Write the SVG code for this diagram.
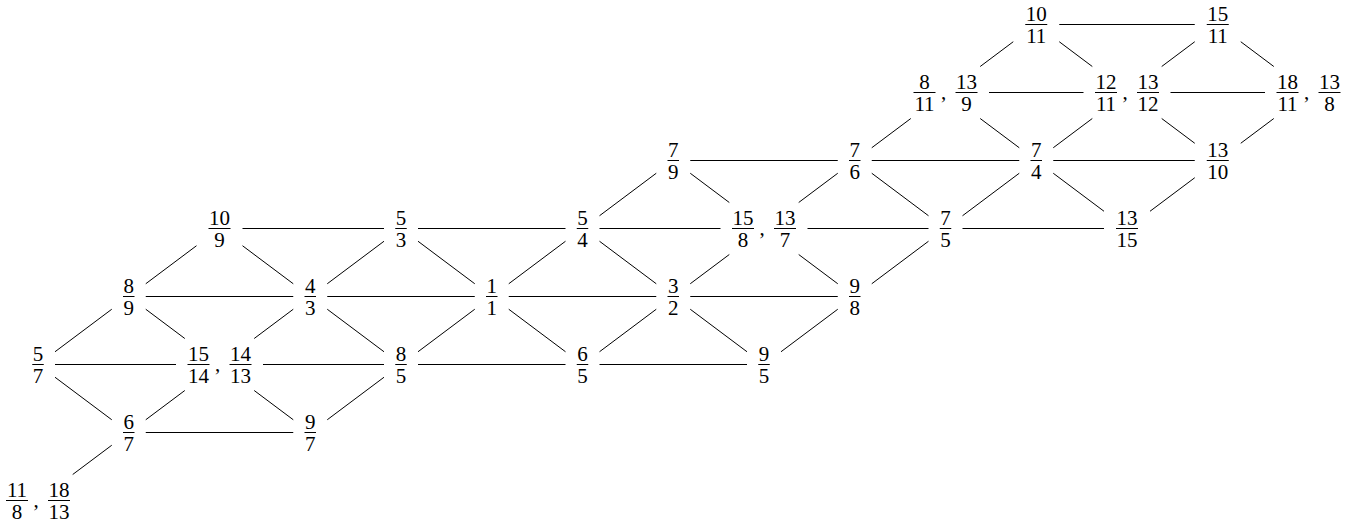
<svg xmlns="http://www.w3.org/2000/svg" width="1354" height="525" viewBox="0 0 1354 525">
<style>
.t{font-family:"Liberation Serif","Times New Roman",serif;font-size:21px;fill:#000;text-anchor:middle}
.bar{stroke:#000;stroke-width:1}
.edges line{stroke:#000;stroke-width:1;fill:none}
</style>
<rect width="1354" height="525" fill="#fff"/>
<g transform="translate(0,-0.5)">
<g id="connectors" class="edges">
<line x1="1059.25" y1="25" x2="1194.75" y2="25"/>
<line x1="989" y1="93" x2="1083.5" y2="93"/>
<line x1="1170.5" y1="93" x2="1265" y2="93"/>
<line x1="690.25" y1="161" x2="837.75" y2="161"/>
<line x1="871.75" y1="161" x2="1019.25" y2="161"/>
<line x1="1053.25" y1="161" x2="1194.75" y2="161"/>
<line x1="242.5" y1="229" x2="384" y2="229"/>
<line x1="418" y1="229" x2="565.5" y2="229"/>
<line x1="599.5" y1="229" x2="720.5" y2="229"/>
<line x1="807.5" y1="229" x2="928.5" y2="229"/>
<line x1="962.5" y1="229" x2="1104" y2="229"/>
<line x1="145.75" y1="297" x2="293.25" y2="297"/>
<line x1="327.25" y1="297" x2="474.75" y2="297"/>
<line x1="508.75" y1="297" x2="656.25" y2="297"/>
<line x1="690.25" y1="297" x2="837.75" y2="297"/>
<line x1="55" y1="365" x2="176" y2="365"/>
<line x1="263" y1="365" x2="384" y2="365"/>
<line x1="418" y1="365" x2="565.5" y2="365"/>
<line x1="599.5" y1="365" x2="747" y2="365"/>
<line x1="145.75" y1="433" x2="293.25" y2="433"/>
<line x1="72.7" y1="475" x2="111.75" y2="445.74"/>
<line x1="55" y1="352.26" x2="111.75" y2="309.74"/>
<line x1="145.75" y1="420.26" x2="184.8" y2="391"/>
<line x1="145.75" y1="284.26" x2="196.5" y2="246.23"/>
<line x1="254.2" y1="339" x2="293.25" y2="309.74"/>
<line x1="327.25" y1="420.26" x2="384" y2="377.74"/>
<line x1="327.25" y1="284.26" x2="384" y2="241.74"/>
<line x1="418" y1="352.26" x2="474.75" y2="309.74"/>
<line x1="508.75" y1="284.26" x2="565.5" y2="241.74"/>
<line x1="599.5" y1="352.26" x2="656.25" y2="309.74"/>
<line x1="599.5" y1="216.26" x2="656.25" y2="173.74"/>
<line x1="690.25" y1="284.26" x2="729.3" y2="255"/>
<line x1="781" y1="352.26" x2="837.75" y2="309.74"/>
<line x1="798.7" y1="203" x2="837.75" y2="173.74"/>
<line x1="871.75" y1="284.26" x2="928.5" y2="241.74"/>
<line x1="871.75" y1="148.26" x2="910.8" y2="119"/>
<line x1="962.5" y1="216.26" x2="1019.25" y2="173.74"/>
<line x1="1053.25" y1="148.26" x2="1092.3" y2="119"/>
<line x1="980.2" y1="67" x2="1013.25" y2="42.23"/>
<line x1="1150" y1="211.77" x2="1194.75" y2="178.23"/>
<line x1="1161.7" y1="67" x2="1194.75" y2="42.23"/>
<line x1="1240.75" y1="143.77" x2="1273.8" y2="119"/>
<line x1="55" y1="377.74" x2="111.75" y2="420.26"/>
<line x1="145.75" y1="309.74" x2="184.8" y2="339"/>
<line x1="242.5" y1="246.23" x2="293.25" y2="284.26"/>
<line x1="254.2" y1="391" x2="293.25" y2="420.26"/>
<line x1="327.25" y1="309.74" x2="384" y2="352.26"/>
<line x1="418" y1="241.74" x2="474.75" y2="284.26"/>
<line x1="508.75" y1="309.74" x2="565.5" y2="352.26"/>
<line x1="599.5" y1="241.74" x2="656.25" y2="284.26"/>
<line x1="690.25" y1="309.74" x2="747" y2="352.26"/>
<line x1="690.25" y1="173.74" x2="729.3" y2="203"/>
<line x1="798.7" y1="255" x2="837.75" y2="284.26"/>
<line x1="871.75" y1="173.74" x2="928.5" y2="216.26"/>
<line x1="980.2" y1="119" x2="1019.25" y2="148.26"/>
<line x1="1053.25" y1="173.74" x2="1104" y2="211.77"/>
<line x1="1059.25" y1="42.23" x2="1092.3" y2="67"/>
<line x1="1161.7" y1="119" x2="1194.75" y2="143.77"/>
<line x1="1240.75" y1="42.23" x2="1273.8" y2="67"/>
</g>

<g id="n10-11"><text class="t" x="1036.25" y="21">10</text><line class="bar" x1="1025.25" y1="25" x2="1047.25" y2="25"/><text class="t" x="1036.25" y="43">11</text></g>
<g id="n15-11"><text class="t" x="1217.75" y="21">15</text><line class="bar" x1="1206.75" y1="25" x2="1228.75" y2="25"/><text class="t" x="1217.75" y="43">11</text></g>

<g id="n8-11_13-9"><text class="t" x="924.5" y="89">8</text><line class="bar" x1="913.5" y1="93" x2="935.5" y2="93"/><text class="t" x="924.5" y="111">11</text><text class="t" x="943.5" y="99.5">,</text><text class="t" x="966.5" y="89">13</text><line class="bar" x1="955.5" y1="93" x2="977.5" y2="93"/><text class="t" x="966.5" y="111">9</text></g>
<g id="n12-11_13-12"><text class="t" x="1106" y="89">12</text><line class="bar" x1="1095" y1="93" x2="1117" y2="93"/><text class="t" x="1106" y="111">11</text><text class="t" x="1125" y="99.5">,</text><text class="t" x="1148" y="89">13</text><line class="bar" x1="1137" y1="93" x2="1159" y2="93"/><text class="t" x="1148" y="111">12</text></g>
<g id="n18-11_13-8"><text class="t" x="1287.5" y="89">18</text><line class="bar" x1="1276.5" y1="93" x2="1298.5" y2="93"/><text class="t" x="1287.5" y="111">11</text><text class="t" x="1306.5" y="99.5">,</text><text class="t" x="1329.5" y="89">13</text><line class="bar" x1="1318.5" y1="93" x2="1340.5" y2="93"/><text class="t" x="1329.5" y="111">8</text></g>

<g id="n7-9"><text class="t" x="673.25" y="157">7</text><line class="bar" x1="667.5" y1="161" x2="679" y2="161"/><text class="t" x="673.25" y="179">9</text></g>
<g id="n7-6"><text class="t" x="854.75" y="157">7</text><line class="bar" x1="849" y1="161" x2="860.5" y2="161"/><text class="t" x="854.75" y="179">6</text></g>
<g id="n7-4"><text class="t" x="1036.25" y="157">7</text><line class="bar" x1="1030.5" y1="161" x2="1042" y2="161"/><text class="t" x="1036.25" y="179">4</text></g>
<g id="n13-10"><text class="t" x="1217.75" y="157">13</text><line class="bar" x1="1206.75" y1="161" x2="1228.75" y2="161"/><text class="t" x="1217.75" y="179">10</text></g>

<g id="n10-9"><text class="t" x="219.5" y="225">10</text><line class="bar" x1="208.5" y1="229" x2="230.5" y2="229"/><text class="t" x="219.5" y="247">9</text></g>
<g id="n5-3"><text class="t" x="401" y="225">5</text><line class="bar" x1="395.25" y1="229" x2="406.75" y2="229"/><text class="t" x="401" y="247">3</text></g>
<g id="n5-4"><text class="t" x="582.5" y="225">5</text><line class="bar" x1="576.75" y1="229" x2="588.25" y2="229"/><text class="t" x="582.5" y="247">4</text></g>
<g id="n15-8_13-7"><text class="t" x="743" y="225">15</text><line class="bar" x1="732" y1="229" x2="754" y2="229"/><text class="t" x="743" y="247">8</text><text class="t" x="762" y="235.5">,</text><text class="t" x="785" y="225">13</text><line class="bar" x1="774" y1="229" x2="796" y2="229"/><text class="t" x="785" y="247">7</text></g>
<g id="n7-5"><text class="t" x="945.5" y="225">7</text><line class="bar" x1="939.75" y1="229" x2="951.25" y2="229"/><text class="t" x="945.5" y="247">5</text></g>
<g id="n13-15"><text class="t" x="1127" y="225">13</text><line class="bar" x1="1116" y1="229" x2="1138" y2="229"/><text class="t" x="1127" y="247">15</text></g>

<g id="n8-9"><text class="t" x="128.75" y="293">8</text><line class="bar" x1="123" y1="297" x2="134.5" y2="297"/><text class="t" x="128.75" y="315">9</text></g>
<g id="n4-3"><text class="t" x="310.25" y="293">4</text><line class="bar" x1="304.5" y1="297" x2="316" y2="297"/><text class="t" x="310.25" y="315">3</text></g>
<g id="n1-1"><text class="t" x="491.75" y="293">1</text><line class="bar" x1="486" y1="297" x2="497.5" y2="297"/><text class="t" x="491.75" y="315">1</text></g>
<g id="n3-2"><text class="t" x="673.25" y="293">3</text><line class="bar" x1="667.5" y1="297" x2="679" y2="297"/><text class="t" x="673.25" y="315">2</text></g>
<g id="n9-8"><text class="t" x="854.75" y="293">9</text><line class="bar" x1="849" y1="297" x2="860.5" y2="297"/><text class="t" x="854.75" y="315">8</text></g>

<g id="n5-7"><text class="t" x="38" y="361">5</text><line class="bar" x1="32.25" y1="365" x2="43.75" y2="365"/><text class="t" x="38" y="383">7</text></g>
<g id="n15-14_14-13"><text class="t" x="198.5" y="361">15</text><line class="bar" x1="187.5" y1="365" x2="209.5" y2="365"/><text class="t" x="198.5" y="383">14</text><text class="t" x="217.5" y="371.5">,</text><text class="t" x="240.5" y="361">14</text><line class="bar" x1="229.5" y1="365" x2="251.5" y2="365"/><text class="t" x="240.5" y="383">13</text></g>
<g id="n8-5"><text class="t" x="401" y="361">8</text><line class="bar" x1="395.25" y1="365" x2="406.75" y2="365"/><text class="t" x="401" y="383">5</text></g>
<g id="n6-5"><text class="t" x="582.5" y="361">6</text><line class="bar" x1="576.75" y1="365" x2="588.25" y2="365"/><text class="t" x="582.5" y="383">5</text></g>
<g id="n9-5"><text class="t" x="764" y="361">9</text><line class="bar" x1="758.25" y1="365" x2="769.75" y2="365"/><text class="t" x="764" y="383">5</text></g>

<g id="n6-7"><text class="t" x="128.75" y="429">6</text><line class="bar" x1="123" y1="433" x2="134.5" y2="433"/><text class="t" x="128.75" y="451">7</text></g>
<g id="n9-7"><text class="t" x="310.25" y="429">9</text><line class="bar" x1="304.5" y1="433" x2="316" y2="433"/><text class="t" x="310.25" y="451">7</text></g>

<g id="n11-8_18-13"><text class="t" x="17" y="497">11</text><line class="bar" x1="6" y1="501" x2="28" y2="501"/><text class="t" x="17" y="519">8</text><text class="t" x="36" y="507.5">,</text><text class="t" x="59" y="497">18</text><line class="bar" x1="48" y1="501" x2="70" y2="501"/><text class="t" x="59" y="519">13</text></g>
</g>
</svg>
